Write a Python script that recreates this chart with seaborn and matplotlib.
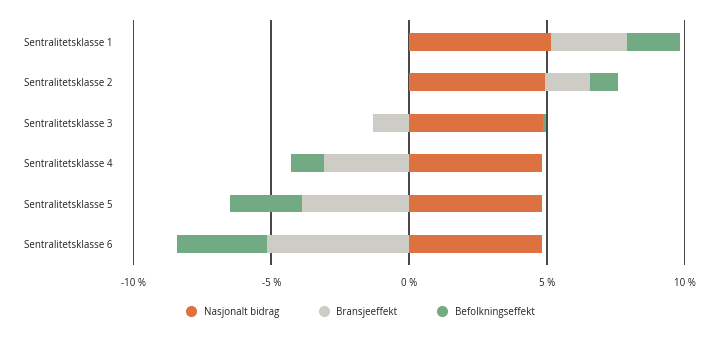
import numpy as np
import pandas as pd
import matplotlib
matplotlib.use("Agg")
import matplotlib.pyplot as plt
from matplotlib.lines import Line2D
import seaborn as sns

categories = ["Sentralitetsklasse 1", "Sentralitetsklasse 2", "Sentralitetsklasse 3",
              "Sentralitetsklasse 4", "Sentralitetsklasse 5", "Sentralitetsklasse 6"]
nasjonalt = [5.12, 4.93, 4.86, 4.79, 4.79, 4.79]
bransje = [2.78, 1.63, -1.31, -3.08, -3.87, -5.14]
befolkning = [1.91, 1.01, 0.11, -1.19, -2.63, -3.26]
series_names = ["Nasjonalt bidrag", "Bransjeeffekt", "Befolkningseffekt"]
colors = ["#DD713F", "#CDCDC5", "#72AA84"]
xticks = [-10, -5, 0, 5, 10]
xticklabels = ["-10 %", "-5 %", "0 %", "5 %", "10 %"]

sns.set_theme(style="white")
plt.rcParams['font.family'] = ['Open Sans', 'DejaVu Sans']

fig = plt.figure(figsize=(7.19, 3.41), dpi=100)
ax = fig.add_axes([133.3/719, 1-265/341, (685.3-133.3)/719, (265-20)/341])

vals = np.array([nasjonalt, bransje, befolkning])
pos = np.clip(vals, 0, None).cumsum(axis=0)
neg = np.clip(vals, None, 0).cumsum(axis=0)

for side in (pos, neg):
    for i in range(2, -1, -1):
        df = pd.DataFrame({"cat": categories, "val": side[i]})
        sns.barplot(data=df, x="val", y="cat", orient="h", color=colors[i],
                    width=0.44, saturation=1, ax=ax, linewidth=0, errorbar=None)

ax.set_xlim(-10, 10)
ax.set_ylim(5.52, -0.54)
for xv in xticks:
    ax.axvline(xv, color="#111111", lw=1.1, zorder=0)
ax.set_xticks(xticks)
ax.set_xticklabels(xticklabels, fontsize=7, color="#222222")
ax.tick_params(axis="y", labelsize=7, colors="#222222", length=0, pad=15)
ax.tick_params(axis="x", length=0, pad=9)
ax.set_xlabel("")
ax.set_ylabel("")
for s in ax.spines.values():
    s.set_visible(False)

handles = [Line2D([], [], marker="o", linestyle="", markersize=7, color=c) for c in colors]
fig.legend(handles, series_names, loc="center", bbox_to_anchor=(358/719, 1-312/341),
           ncol=3, frameon=False, fontsize=7, handletextpad=0.3, columnspacing=3.6,
           labelcolor="#222222")

fig.savefig("out.png", dpi=100)
